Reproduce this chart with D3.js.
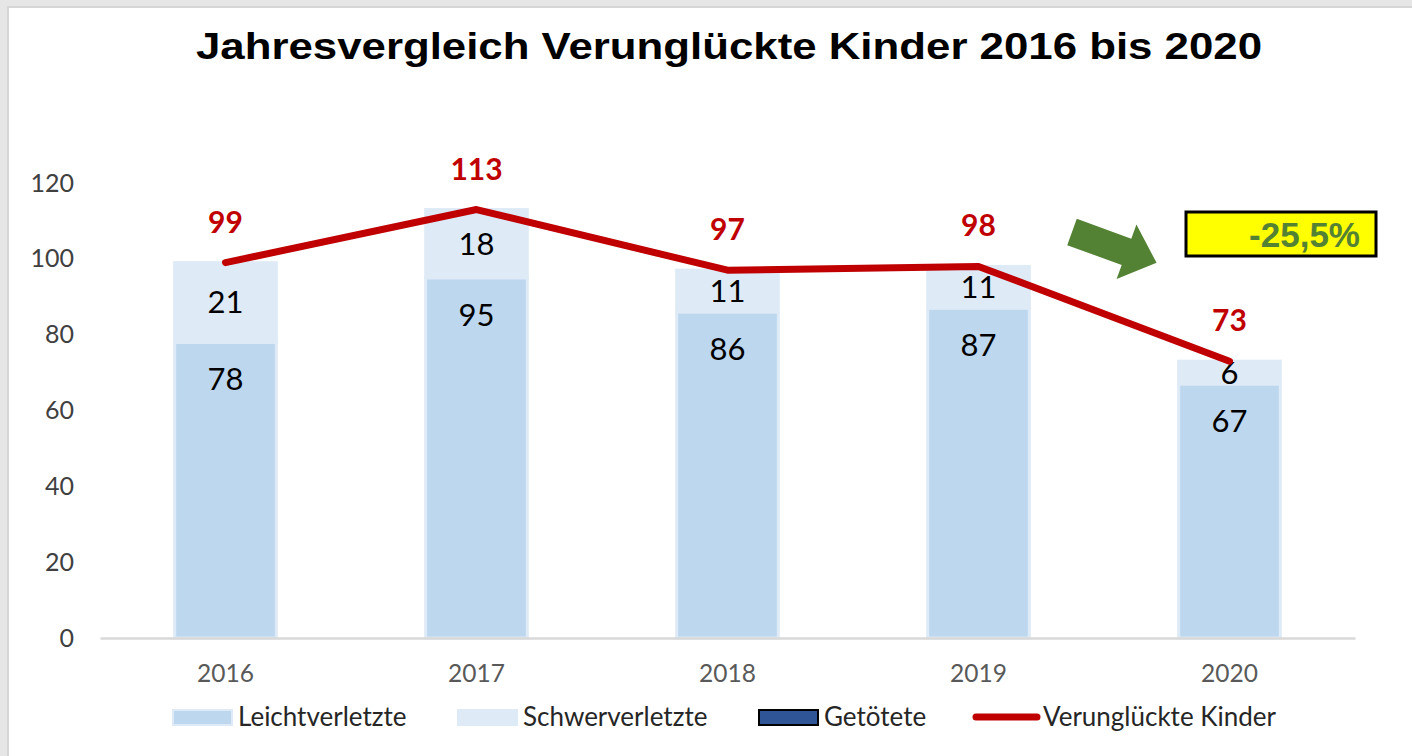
<!DOCTYPE html>
<html>
<head>
<meta charset="utf-8">
<script src="https://cdn.jsdelivr.net/npm/d3@7"></script>
<style>
  html, body { margin: 0; padding: 0; background: #e6e6e6; }
  svg { display: block; }
</style>
</head>
<body>
<div id="chart"></div>
<script>
// values
var years = ['2016', '2017', '2018', '2019', '2020'];
var leicht = [78, 95, 86, 87, 67];
var schwer = [21, 18, 11, 11, 6];
var getoetet = [0, 0, 0, 0, 0];
var verunglueckt = [99, 113, 97, 98, 73];
var yTicks = [0, 20, 40, 60, 80, 100, 120];
var seriesNames = ['Leichtverletzte', 'Schwerverletzte', 'Getötete', 'Verunglückte Kinder'];
var changeLabel = '-25,5%';

var W = 1412, H = 756;
var color = d3.scaleOrdinal()
  .domain(seriesNames)
  .range(['#bdd7ee', '#deebf7', '#2f5597', '#c00000']);
var calibri = 'Lato, "Open Sans", sans-serif';

var svg = d3.select('#chart').append('svg')
  .attr('width', W)
  .attr('height', H);

// chart area frame
svg.append('rect')
  .attr('x', 8).attr('y', 7)
  .attr('width', W).attr('height', H)
  .attr('fill', '#ffffff')
  .attr('stroke', '#d6d6d6')
  .attr('stroke-width', 2);

svg.append('text')
  .attr('x', 729).attr('y', 59)
  .attr('text-anchor', 'middle')
  .attr('font-family', '"Liberation Sans", Arial, sans-serif')
  .attr('font-weight', 'bold')
  .attr('font-size', 37)
  .attr('textLength', 1066)
  .attr('lengthAdjust', 'spacingAndGlyphs')
  .attr('fill', '#000')
  .text('Jahresvergleich Verunglückte Kinder 2016 bis 2020');

var x = d3.scaleBand()
  .domain(years)
  .range([100, 1355])
  .padding(0);

var y = d3.scaleLinear()
  .domain([0, 120])
  .range([638, 183]);

var barW = x.bandwidth() * 0.405;

// y axis labels (no axis line, no gridlines)
var yAxis = d3.axisLeft(y).tickValues(yTicks).tickSize(0).tickPadding(0);
var gy = svg.append('g')
  .attr('transform', 'translate(74,0)')
  .call(yAxis);
gy.select('.domain').remove();
gy.selectAll('text')
  .attr('font-family', calibri)
  .attr('font-size', 25)
  .attr('fill', '#404040');

// stacked bars
var rows = years.map(function(yr, i) {
  return { year: yr, Leichtverletzte: leicht[i], Schwerverletzte: schwer[i], 'Getötete': getoetet[i] };
});
var stack = d3.stack().keys(seriesNames.slice(0, 3));
var layers = stack(rows);

var layer = svg.selectAll('.layer')
  .data(layers)
  .enter().append('g')
  .attr('class', 'layer');

layer.selectAll('rect')
  .data(function(d) { return d.map(function(p) { return { key: d.key, p: p }; }); })
  .enter().append('rect')
  .attr('x', function(d) { return x(d.p.data.year) + (x.bandwidth() - barW) / 2; })
  .attr('width', barW)
  .attr('y', function(d) { return y(d.p[1]); })
  .attr('height', function(d) { return y(d.p[0]) - y(d.p[1]); })
  .attr('fill', function(d) { return color(d.key); })
  .attr('stroke', function(d) { return d.key == 'Getötete' ? '#000' : '#deebf7'; })
  .attr('stroke-width', function(d) { return (d.p[1] - d.p[0]) > 0 ? 3 : 0; });

// x axis
var xAxis = d3.axisBottom(x).tickSize(0).tickPadding(0);
var gx = svg.append('g')
  .attr('transform', 'translate(0,' + y(0) + ')')
  .call(xAxis);
gx.select('.domain')
  .attr('stroke', '#d9d9d9')
  .attr('stroke-width', 2.5);
gx.selectAll('text')
  .attr('dy', null)
  .attr('y', 44)
  .attr('font-family', calibri)
  .attr('font-size', 24.5)
  .attr('fill', '#595959');

// bar value labels
var labels = svg.append('g')
  .attr('font-family', calibri)
  .attr('font-size', 31)
  .attr('fill', '#000')
  .attr('text-anchor', 'middle');

labels.selectAll('.lab-leicht')
  .data(rows)
  .enter().append('text')
  .attr('class', 'lab-leicht')
  .attr('x', function(d) { return x(d.year) + x.bandwidth() / 2; })
  .attr('y', function(d) { return y(d.Leichtverletzte) + 48; })
  .text(function(d) { return d.Leichtverletzte; });

labels.selectAll('.lab-schwer')
  .data(rows)
  .enter().append('text')
  .attr('class', 'lab-schwer')
  .attr('x', function(d) { return x(d.year) + x.bandwidth() / 2; })
  .attr('y', function(d) { return (y(d.Leichtverletzte) + y(d.Leichtverletzte + d.Schwerverletzte)) / 2 + 11; })
  .text(function(d) { return d.Schwerverletzte; });

// total line
var line = d3.line()
  .x(function(d, i) { return x(years[i]) + x.bandwidth() / 2; })
  .y(function(d) { return y(d); });

svg.append('path')
  .datum(verunglueckt)
  .attr('d', line)
  .attr('fill', 'none')
  .attr('stroke', color('Verunglückte Kinder'))
  .attr('stroke-width', 7)
  .attr('stroke-linecap', 'round')
  .attr('stroke-linejoin', 'round');

svg.append('g').selectAll('text')
  .data(verunglueckt)
  .enter().append('text')
  .attr('x', function(d, i) { return x(years[i]) + x.bandwidth() / 2; })
  .attr('y', function(d) { return y(d) - 30; })
  .attr('text-anchor', 'middle')
  .attr('font-family', calibri)
  .attr('font-weight', 'bold')
  .attr('font-size', 30)
  .attr('fill', '#c00000')
  .text(function(d) { return d; });

// green arrow + change box
svg.append('path')
  .attr('d', 'M0,-14 L58,-14 L58,-29 L90,0 L58,29 L58,14 L0,14 Z')
  .attr('transform', 'translate(1072,232) rotate(20)')
  .attr('fill', '#548235');

svg.append('rect')
  .attr('x', 1186).attr('y', 212)
  .attr('width', 190).attr('height', 44)
  .attr('fill', '#ffff00')
  .attr('stroke', '#000')
  .attr('stroke-width', 3);

svg.append('text')
  .attr('x', 1360).attr('y', 247)
  .attr('text-anchor', 'end')
  .attr('font-family', '"Liberation Sans", Arial, sans-serif')
  .attr('font-weight', 'bold')
  .attr('font-size', 35)
  .attr('fill', '#548235')
  .text(changeLabel);

// legend
var legendX = [172, 457, 758, 973];
var legend = svg.selectAll('.legend')
  .data(seriesNames)
  .enter().append('g')
  .attr('class', 'legend')
  .attr('transform', function(d, i) { return 'translate(' + legendX[i] + ',0)'; });

legend.each(function(d) {
  var g = d3.select(this);
  if (d == 'Verunglückte Kinder') {
    g.append('line')
      .attr('x1', 3).attr('x2', 64)
      .attr('y1', 717).attr('y2', 717)
      .attr('stroke', color(d))
      .attr('stroke-width', 7)
      .attr('stroke-linecap', 'round');
  } else {
    g.append('rect')
      .attr('x', 1).attr('y', 710)
      .attr('width', 59).attr('height', 15)
      .attr('fill', color(d))
      .attr('stroke', d == 'Getötete' ? '#000' : '#deebf7')
      .attr('stroke-width', 2);
  }
  g.append('text')
    .attr('x', d == 'Verunglückte Kinder' ? 70 : 66)
    .attr('y', 726)
    .attr('font-family', calibri)
    .attr('font-size', 26)
    .attr('fill', '#262626')
    .text(d);
});
</script>
</body>
</html>
